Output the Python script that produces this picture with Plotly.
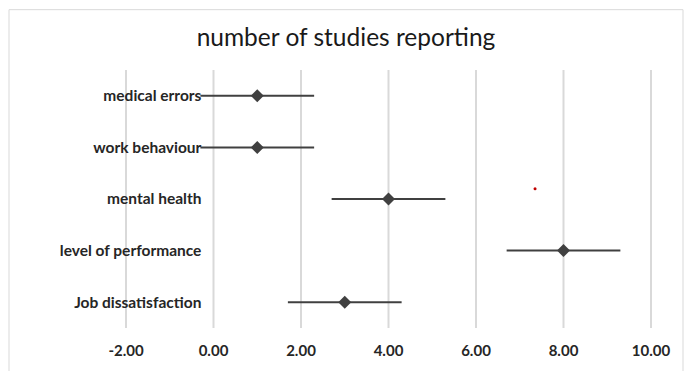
import plotly.graph_objects as go

categories = ["medical errors", "work behaviour", "mental health", "level of performance", "Job dissatisfaction"]
cat_pos = [5, 4, 3, 2, 1]
values = [1, 1, 4, 8, 3]
errors = [1.3, 1.3, 1.3, 1.3, 1.3]
stray_x = [7.35]
stray_y = [3.2]
x_ticks = [-2, 0, 2, 4, 6, 8, 10]
x_ticktext = ["-2.00", "0.00", "2.00", "4.00", "6.00", "8.00", "10.00"]

# page body has an 8px margin, so the figure is sized/offset to compensate
OFF = 8
W, H = 692 - OFF, 371 - OFF
xmin, xmax = -2, 10
ymin, ymax = 0.5, 5.5
grid_left, grid_right = 126 - OFF, 651 - OFF
scale = (grid_right - grid_left) / (xmax - xmin)
PADPX = 4
pad = PADPX / scale
ML = grid_left - PADPX
MR = W - (grid_right + PADPX)
MT = 70 - OFF
MB = H - (333 - OFF)

fig = go.Figure()
# vertical gridlines at every tick (as a trace drawn first, beneath the data)
gx, gy = [], []
for t in x_ticks:
    gx += [t, t, None]
    gy += [ymin, ymax, None]
fig.add_trace(go.Scatter(x=gx, y=gy, mode="lines", line=dict(color="#d9d9d9", width=2),
                         hoverinfo="skip", showlegend=False))

fig.add_trace(go.Scatter(
    x=values, y=cat_pos, mode="markers",
    marker=dict(symbol="diamond", size=10, color="#404040"),
    error_x=dict(type="data", array=errors, visible=True, color="#404040", thickness=2, width=0),
    showlegend=False,
))
fig.add_trace(go.Scatter(
    x=stray_x, y=stray_y, mode="markers",
    marker=dict(size=3, color="#c00000"), showlegend=False,
))

pw = W - ML - MR
ph = H - MT - MB
fig.add_shape(type="rect", xref="paper", yref="paper",
              x0=(1 - ML) / pw, x1=(675 - ML) / pw,
              y0=-(MB + 30) / ph, y1=(H - 0.5 - MB) / ph,
              line=dict(color="#d9d9d9", width=1), layer="below")

fig.update_layout(
    width=W, height=H,
    margin=dict(l=ML, r=MR, t=MT, b=MB),
    paper_bgcolor="white", plot_bgcolor="white",
    font=dict(family="Lato", color="#262626", size=13),
    title=dict(text="number of studies reporting", x=(346 - OFF) / W, xanchor="center", xref="container",
               y=1 - (37 - OFF) / H, yanchor="middle",
               font=dict(family="Lato", size=24.5, color="#1a1a1a")),
    xaxis=dict(range=[xmin - pad, xmax + pad], tickvals=x_ticks, ticktext=x_ticktext,
               showgrid=False, zeroline=False, showline=False,
               ticks="outside", ticklen=9, tickcolor="rgba(0,0,0,0)",
               tickfont=dict(size=15, color="#262626", weight="bold")),
    yaxis=dict(range=[ymin, ymax], tickvals=cat_pos, ticktext=categories,
               showgrid=False, zeroline=False, showline=False,
               anchor="free", position=(0 - xmin + pad) / (xmax - xmin + 2 * pad),
               ticks="outside", ticklen=9, tickcolor="rgba(0,0,0,0)",
               tickfont=dict(size=15.5, color="#262626", weight="bold")),
)

fig.write_html("out.html")
